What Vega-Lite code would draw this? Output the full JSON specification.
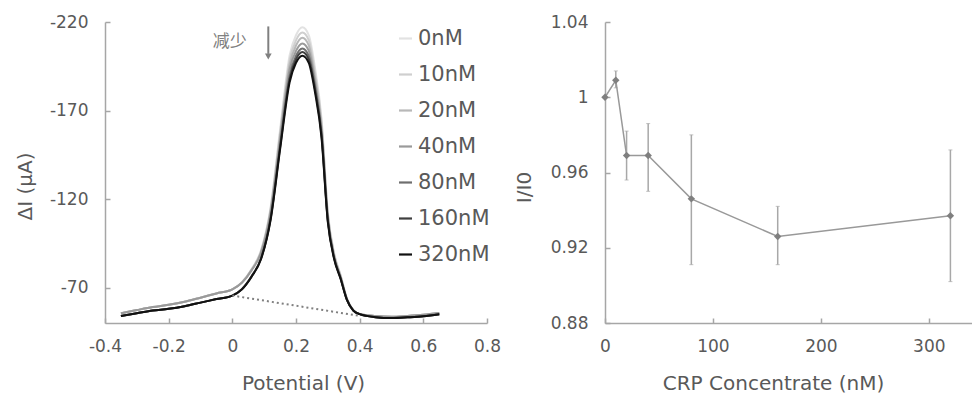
{
  "$schema": "https://vega.github.io/schema/vega-lite/v6.json",
  "padding": {"left": 15, "top": 13, "right": 0, "bottom": 0},
  "background": "white",
  "bounds": "flush",
  "spacing": 118,
  "config": {
    "view": {"stroke": null},
    "axis": {
      "grid": false,
      "labelFlush": false,
      "labelOverlap": false,
      "labelFont": "DejaVu Sans",
      "labelFontSize": 17,
      "labelColor": "#595959",
      "titleFont": "DejaVu Sans",
      "titleFontSize": 20,
      "titleFontWeight": "normal",
      "titleColor": "#595959",
      "domainColor": "#a6a6a6",
      "domainWidth": 1.5,
      "tickColor": "#a6a6a6",
      "tickWidth": 1.5,
      "tickSize": -5
    },
    "legend": {
      "labelFont": "DejaVu Sans",
      "labelFontSize": 21,
      "labelColor": "#595959"
    }
  },
  "hconcat": [
    {
      "width": 382,
      "height": 301,
      "layer": [
        {
          "data": {"values": [
            {"s":"0nM","p":-0.35,"i":-55.5},{"s":"0nM","p":-0.3,"i":-57.3},{"s":"0nM","p":-0.25,"i":-59},{"s":"0nM","p":-0.2,"i":-60.3},{"s":"0nM","p":-0.15,"i":-62},{"s":"0nM","p":-0.1,"i":-64.3},{"s":"0nM","p":-0.05,"i":-66.7},{"s":"0nM","p":0,"i":-69},
            {"s":"0nM","p":0.03,"i":-73.0},{"s":"0nM","p":0.06,"i":-80.4},{"s":"0nM","p":0.09,"i":-91.1},{"s":"0nM","p":0.12,"i":-115.2},{"s":"0nM","p":0.15,"i":-159.3},{"s":"0nM","p":0.18,"i":-201.2},{"s":"0nM","p":0.2,"i":-212.5},{"s":"0nM","p":0.22,"i":-217.0},{"s":"0nM","p":0.24,"i":-212.6},{"s":"0nM","p":0.26,"i":-193.8},{"s":"0nM","p":0.28,"i":-166.0},{"s":"0nM","p":0.3,"i":-112.7},{"s":"0nM","p":0.32,"i":-89.4},{"s":"0nM","p":0.34,"i":-77.2},{"s":"0nM","p":0.36,"i":-63.9},{"s":"0nM","p":0.38,"i":-57.3},{"s":"0nM","p":0.4,"i":-55.1},
            {"s":"0nM","p":0.45,"i":-54},{"s":"0nM","p":0.5,"i":-53.6},{"s":"0nM","p":0.55,"i":-54},{"s":"0nM","p":0.6,"i":-54.6},{"s":"0nM","p":0.65,"i":-55.6},

            {"s":"10nM","p":-0.35,"i":-55.5},{"s":"10nM","p":-0.3,"i":-57.3},{"s":"10nM","p":-0.25,"i":-59},{"s":"10nM","p":-0.2,"i":-60.3},{"s":"10nM","p":-0.15,"i":-62},{"s":"10nM","p":-0.1,"i":-64.3},{"s":"10nM","p":-0.05,"i":-66.7},{"s":"10nM","p":0,"i":-69},
            {"s":"10nM","p":0.03,"i":-72.9},{"s":"10nM","p":0.06,"i":-80.1},{"s":"10nM","p":0.09,"i":-90.6},{"s":"10nM","p":0.12,"i":-114.2},{"s":"10nM","p":0.15,"i":-157.5},{"s":"10nM","p":0.18,"i":-198.6},{"s":"10nM","p":0.2,"i":-209.6},{"s":"10nM","p":0.22,"i":-214.0},{"s":"10nM","p":0.24,"i":-209.7},{"s":"10nM","p":0.26,"i":-191.2},{"s":"10nM","p":0.28,"i":-164.0},{"s":"10nM","p":0.3,"i":-111.6},{"s":"10nM","p":0.32,"i":-88.7},{"s":"10nM","p":0.34,"i":-76.8},{"s":"10nM","p":0.36,"i":-63.7},{"s":"10nM","p":0.38,"i":-57.2},{"s":"10nM","p":0.4,"i":-55.1},
            {"s":"10nM","p":0.45,"i":-54},{"s":"10nM","p":0.5,"i":-53.6},{"s":"10nM","p":0.55,"i":-54},{"s":"10nM","p":0.6,"i":-54.6},{"s":"10nM","p":0.65,"i":-55.6},

            {"s":"20nM","p":-0.35,"i":-55.5},{"s":"20nM","p":-0.3,"i":-57.3},{"s":"20nM","p":-0.25,"i":-59},{"s":"20nM","p":-0.2,"i":-60.3},{"s":"20nM","p":-0.15,"i":-62},{"s":"20nM","p":-0.1,"i":-64.3},{"s":"20nM","p":-0.05,"i":-66.7},{"s":"20nM","p":0,"i":-69},
            {"s":"20nM","p":0.03,"i":-72.8},{"s":"20nM","p":0.06,"i":-79.9},{"s":"20nM","p":0.09,"i":-90.1},{"s":"20nM","p":0.12,"i":-113.3},{"s":"20nM","p":0.15,"i":-155.7},{"s":"20nM","p":0.18,"i":-195.9},{"s":"20nM","p":0.2,"i":-206.7},{"s":"20nM","p":0.22,"i":-211.1},{"s":"20nM","p":0.24,"i":-206.8},{"s":"20nM","p":0.26,"i":-188.7},{"s":"20nM","p":0.28,"i":-161.9},{"s":"20nM","p":0.3,"i":-110.6},{"s":"20nM","p":0.32,"i":-88.1},{"s":"20nM","p":0.34,"i":-76.4},{"s":"20nM","p":0.36,"i":-63.6},{"s":"20nM","p":0.38,"i":-57.2},{"s":"20nM","p":0.4,"i":-55.1},
            {"s":"20nM","p":0.45,"i":-54},{"s":"20nM","p":0.5,"i":-53.6},{"s":"20nM","p":0.55,"i":-54},{"s":"20nM","p":0.6,"i":-54.6},{"s":"20nM","p":0.65,"i":-55.6},

            {"s":"40nM","p":-0.35,"i":-55.5},{"s":"40nM","p":-0.3,"i":-57.3},{"s":"40nM","p":-0.25,"i":-59},{"s":"40nM","p":-0.2,"i":-60.3},{"s":"40nM","p":-0.15,"i":-62},{"s":"40nM","p":-0.1,"i":-64.3},{"s":"40nM","p":-0.05,"i":-66.7},{"s":"40nM","p":0,"i":-69},
            {"s":"40nM","p":0.03,"i":-72.7},{"s":"40nM","p":0.06,"i":-79.6},{"s":"40nM","p":0.09,"i":-89.6},{"s":"40nM","p":0.12,"i":-112.2},{"s":"40nM","p":0.15,"i":-153.8},{"s":"40nM","p":0.18,"i":-193.2},{"s":"40nM","p":0.2,"i":-203.7},{"s":"40nM","p":0.22,"i":-207.9},{"s":"40nM","p":0.24,"i":-203.8},{"s":"40nM","p":0.26,"i":-186.0},{"s":"40nM","p":0.28,"i":-159.8},{"s":"40nM","p":0.3,"i":-109.5},{"s":"40nM","p":0.32,"i":-87.5},{"s":"40nM","p":0.34,"i":-75.9},{"s":"40nM","p":0.36,"i":-63.4},{"s":"40nM","p":0.38,"i":-57.1},{"s":"40nM","p":0.4,"i":-55.0},
            {"s":"40nM","p":0.45,"i":-54},{"s":"40nM","p":0.5,"i":-53.6},{"s":"40nM","p":0.55,"i":-54},{"s":"40nM","p":0.6,"i":-54.6},{"s":"40nM","p":0.65,"i":-55.6},

            {"s":"80nM","p":-0.35,"i":-54},{"s":"80nM","p":-0.3,"i":-55.5},{"s":"80nM","p":-0.25,"i":-57},{"s":"80nM","p":-0.2,"i":-58},{"s":"80nM","p":-0.15,"i":-59.5},{"s":"80nM","p":-0.1,"i":-61.5},{"s":"80nM","p":-0.05,"i":-63.5},{"s":"80nM","p":0,"i":-65.5},
            {"s":"80nM","p":0.03,"i":-69.1},{"s":"80nM","p":0.06,"i":-76.3},{"s":"80nM","p":0.09,"i":-86.6},{"s":"80nM","p":0.12,"i":-109.3},{"s":"80nM","p":0.15,"i":-150.4},{"s":"80nM","p":0.18,"i":-189.5},{"s":"80nM","p":0.2,"i":-200.8},{"s":"80nM","p":0.22,"i":-205.0},{"s":"80nM","p":0.24,"i":-200.9},{"s":"80nM","p":0.26,"i":-183.4},{"s":"80nM","p":0.28,"i":-157.7},{"s":"80nM","p":0.3,"i":-108.4},{"s":"80nM","p":0.32,"i":-86.8},{"s":"80nM","p":0.34,"i":-75.5},{"s":"80nM","p":0.36,"i":-63.2},{"s":"80nM","p":0.38,"i":-57.1},{"s":"80nM","p":0.4,"i":-55.0},
            {"s":"80nM","p":0.45,"i":-53.3},{"s":"80nM","p":0.5,"i":-52.8},{"s":"80nM","p":0.55,"i":-53.2},{"s":"80nM","p":0.6,"i":-53.8},{"s":"80nM","p":0.65,"i":-55},

            {"s":"160nM","p":-0.35,"i":-54},{"s":"160nM","p":-0.3,"i":-55.5},{"s":"160nM","p":-0.25,"i":-57},{"s":"160nM","p":-0.2,"i":-58},{"s":"160nM","p":-0.15,"i":-59.5},{"s":"160nM","p":-0.1,"i":-61.5},{"s":"160nM","p":-0.05,"i":-63.5},{"s":"160nM","p":0,"i":-65.5},
            {"s":"160nM","p":0.03,"i":-69.1},{"s":"160nM","p":0.06,"i":-76.2},{"s":"160nM","p":0.09,"i":-86.3},{"s":"160nM","p":0.12,"i":-108.6},{"s":"160nM","p":0.15,"i":-149.2},{"s":"160nM","p":0.18,"i":-187.8},{"s":"160nM","p":0.2,"i":-198.9},{"s":"160nM","p":0.22,"i":-203.0},{"s":"160nM","p":0.24,"i":-198.9},{"s":"160nM","p":0.26,"i":-181.7},{"s":"160nM","p":0.28,"i":-156.4},{"s":"160nM","p":0.3,"i":-107.7},{"s":"160nM","p":0.32,"i":-86.4},{"s":"160nM","p":0.34,"i":-75.3},{"s":"160nM","p":0.36,"i":-63.1},{"s":"160nM","p":0.38,"i":-57.0},{"s":"160nM","p":0.4,"i":-55.0},
            {"s":"160nM","p":0.45,"i":-53.3},{"s":"160nM","p":0.5,"i":-52.8},{"s":"160nM","p":0.55,"i":-53.2},{"s":"160nM","p":0.6,"i":-53.8},{"s":"160nM","p":0.65,"i":-55},

            {"s":"320nM","p":-0.35,"i":-54},{"s":"320nM","p":-0.3,"i":-55.5},{"s":"320nM","p":-0.25,"i":-57},{"s":"320nM","p":-0.2,"i":-58},{"s":"320nM","p":-0.15,"i":-59.5},{"s":"320nM","p":-0.1,"i":-61.5},{"s":"320nM","p":-0.05,"i":-63.5},{"s":"320nM","p":0,"i":-65.5},
            {"s":"320nM","p":0.03,"i":-69},{"s":"320nM","p":0.06,"i":-76},{"s":"320nM","p":0.09,"i":-86},{"s":"320nM","p":0.12,"i":-108},{"s":"320nM","p":0.15,"i":-148},{"s":"320nM","p":0.18,"i":-186},{"s":"320nM","p":0.2,"i":-197},{"s":"320nM","p":0.22,"i":-201},{"s":"320nM","p":0.24,"i":-197},{"s":"320nM","p":0.26,"i":-180},{"s":"320nM","p":0.28,"i":-155},{"s":"320nM","p":0.3,"i":-107},{"s":"320nM","p":0.32,"i":-86},{"s":"320nM","p":0.34,"i":-75},{"s":"320nM","p":0.36,"i":-63},{"s":"320nM","p":0.38,"i":-57},{"s":"320nM","p":0.4,"i":-55},
            {"s":"320nM","p":0.45,"i":-53.3},{"s":"320nM","p":0.5,"i":-52.8},{"s":"320nM","p":0.55,"i":-53.2},{"s":"320nM","p":0.6,"i":-53.8},{"s":"320nM","p":0.65,"i":-55}
          ]},
          "mark": {"type": "line", "interpolate": "monotone", "strokeWidth": 2},
          "encoding": {
            "x": {"field": "p", "type": "quantitative",
                  "scale": {"domain": [-0.4, 0.8], "nice": false, "zero": false},
                  "axis": {"title": "Potential (V)", "values": [-0.4,-0.2,0,0.2,0.4,0.6,0.8],
                           "labelExpr": "toString(datum.value)", "labelPadding": 20,
                           "titleX": 198, "titleY": 66, "titleBaseline": "alphabetic"}},
            "y": {"field": "i", "type": "quantitative",
                  "scale": {"domain": [-220, -50], "reverse": true, "nice": false, "zero": false},
                  "axis": {"title": "ΔI (μA)", "values": [-220,-170,-120,-70],
                           "labelExpr": "toString(datum.value)", "labelPadding": 22,
                           "titleX": -74, "titleY": 164, "titleBaseline": "alphabetic"}},
            "color": {"field": "s", "type": "nominal",
                      "scale": {"domain": ["0nM","10nM","20nM","40nM","80nM","160nM","320nM"],
                                "range": ["#e2e2e2","#cfcfcf","#b8b8b8","#9a9a9a","#6e6e6e","#3f3f3f","#111111"]},
                      "legend": {"title": null, "orient": "none", "legendX": 290, "legendY": 6,
                                 "symbolType": "stroke", "symbolSize": 169, "symbolStrokeWidth": 2.2,
                                 "rowPadding": 14, "labelOffset": 2}}
          }
        },
        {
          "data": {"values": [{"p": 0, "i": -65.5}, {"p": 0.4, "i": -54}]},
          "mark": {"type": "line", "strokeDash": [2, 3], "strokeWidth": 2, "color": "#808080"},
          "encoding": {
            "x": {"field": "p", "type": "quantitative"},
            "y": {"field": "i", "type": "quantitative"}
          }
        },
        {
          "data": {"values": [{"p": 0.113, "a": -217.5, "b": -202}]},
          "mark": {"type": "rule", "strokeWidth": 2, "color": "#808080"},
          "encoding": {
            "x": {"field": "p", "type": "quantitative"},
            "y": {"field": "a", "type": "quantitative"},
            "y2": {"field": "b"}
          }
        },
        {
          "data": {"values": [{"p": 0.113, "i": -200.5}]},
          "mark": {"type": "point", "shape": "triangle-down", "filled": true, "size": 45, "color": "#808080", "opacity": 1},
          "encoding": {
            "x": {"field": "p", "type": "quantitative"},
            "y": {"field": "i", "type": "quantitative"}
          }
        },
        {
          "data": {"values": [{"p": -0.008, "i": -208.5, "t": "减少"}]},
          "mark": {"type": "text", "font": "Noto Sans CJK SC", "fontSize": 17, "color": "#808080", "align": "center", "baseline": "middle"},
          "encoding": {
            "x": {"field": "p", "type": "quantitative"},
            "y": {"field": "i", "type": "quantitative"},
            "text": {"field": "t"}
          }
        }
      ]
    },
    {
      "width": 367,
      "height": 301,
      "data": {"values": [
        {"c": 0, "r": 1.0, "lo": 1.0, "hi": 1.0},
        {"c": 10, "r": 1.009, "lo": 1.005, "hi": 1.014},
        {"c": 20, "r": 0.969, "lo": 0.956, "hi": 0.982},
        {"c": 40, "r": 0.969, "lo": 0.950, "hi": 0.986},
        {"c": 80, "r": 0.946, "lo": 0.911, "hi": 0.980},
        {"c": 160, "r": 0.926, "lo": 0.911, "hi": 0.942},
        {"c": 320, "r": 0.937, "lo": 0.902, "hi": 0.972}
      ]},
      "encoding": {
        "x": {"field": "c", "type": "quantitative",
              "scale": {"domain": [0, 340], "nice": false},
              "axis": {"title": "CRP Concentrate (nM)", "values": [0,100,200,300],
                       "labelExpr": "toString(datum.value)", "labelPadding": 20,
                       "titleX": 168, "titleY": 66, "titleBaseline": "alphabetic"}}
      },
      "layer": [
        {
          "transform": [{"filter": "datum.c > 0"}],
          "mark": {"type": "errorbar", "color": "#a8a8a8", "ticks": {"size": 4}, "rule": {"strokeWidth": 1.5}},
          "encoding": {
            "y": {"field": "lo", "type": "quantitative",
                  "scale": {"domain": [0.88, 1.04], "nice": false, "zero": false},
                  "axis": {"title": "I/I0", "values": [0.88,0.92,0.96,1.0,1.04],
                           "labelExpr": "toString(datum.value)", "labelPadding": 22,
                           "titleX": -75, "titleY": 165, "titleBaseline": "alphabetic"}},
            "y2": {"field": "hi"}
          }
        },
        {
          "mark": {"type": "line", "color": "#999999", "strokeWidth": 1.5},
          "encoding": {"y": {"field": "r", "type": "quantitative"}}
        },
        {
          "mark": {"type": "point", "shape": "diamond", "filled": true, "size": 55, "color": "#7f7f7f", "opacity": 1},
          "encoding": {"y": {"field": "r", "type": "quantitative"}}
        }
      ]
    }
  ]
}
